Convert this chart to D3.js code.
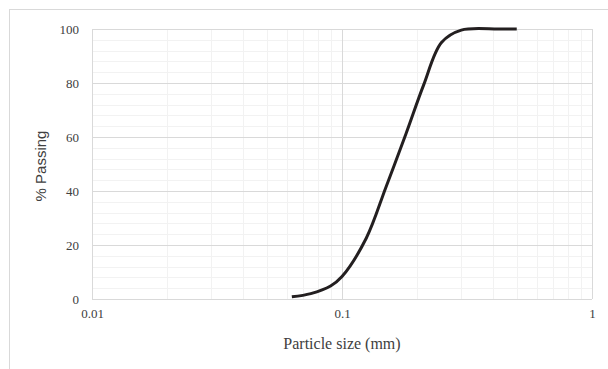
<!DOCTYPE html>
<html>
<head>
<meta charset="utf-8">
<script src="https://cdn.jsdelivr.net/npm/d3@7"></script>
<style>
  html, body { margin: 0; padding: 0; background: #fff; }
  svg { display: block; }
  .tick text { font-family: 'Liberation Serif', 'Times New Roman', serif; font-size: 13px; fill: #404040; }
</style>
</head>
<body>
<svg id="chart" width="608" height="369"></svg>
<script>
// Particle size distribution (sieve analysis)
const sizes   = [0.063, 0.075, 0.09, 0.1, 0.125, 0.15, 0.18, 0.212, 0.25, 0.3, 0.425, 0.5];
const passing = [0.8, 2.0, 4.8, 8.3, 22.5, 41.5, 61, 79.2, 95, 99.6, 100, 100];

const xTickValues = [0.01, 0.1, 1];
const xTickLabels = ["0.01", "0.1", "1"];
const yTickValues = [0, 20, 40, 60, 80, 100];

const svg = d3.select("#chart");
const W = 608, H = 369;
const m = { left: 92, right: W - 592, top: 29, bottom: H - 299 };

// chart frame
svg.append("rect")
  .attr("x", 9.5).attr("y", 9.5)
  .attr("width", 620).attr("height", 380)
  .attr("fill", "#fff").attr("stroke", "#d9d9d9").attr("stroke-width", 1);

const x = d3.scaleLog().domain([0.01, 1]).range([m.left, W - m.right]);
const y = d3.scaleLinear().domain([0, 100]).range([H - m.bottom, m.top]);

const g = svg.append("g");

// minor grid: vertical at 2..9 of each decade, horizontal every 4 %
const minorX = [];
[0.01, 0.1].forEach(d => { for (let k = 2; k <= 9; k++) minorX.push(d * k); });
const minorY = d3.range(0, 101, 4).filter(v => v % 20 !== 0);

g.selectAll(".mx").data(minorX).join("line")
  .attr("x1", d => Math.round(x(d)) + 0.5).attr("x2", d => Math.round(x(d)) + 0.5)
  .attr("y1", y(100)).attr("y2", y(0))
  .attr("stroke", "#f2f2f2").attr("stroke-width", 1);
g.selectAll(".my").data(minorY).join("line")
  .attr("x1", x(0.01)).attr("x2", x(1))
  .attr("y1", d => Math.round(y(d)) + 0.5).attr("y2", d => Math.round(y(d)) + 0.5)
  .attr("stroke", "#f2f2f2").attr("stroke-width", 1);

// major grid
g.selectAll(".Mx").data(xTickValues).join("line")
  .attr("x1", d => Math.round(x(d)) + 0.5).attr("x2", d => Math.round(x(d)) + 0.5)
  .attr("y1", y(100)).attr("y2", y(0))
  .attr("stroke", "#d9d9d9").attr("stroke-width", 1);
g.selectAll(".My").data(yTickValues).join("line")
  .attr("x1", x(0.01)).attr("x2", x(1))
  .attr("y1", d => Math.round(y(d)) + 0.5).attr("y2", d => Math.round(y(d)) + 0.5)
  .attr("stroke", "#d9d9d9").attr("stroke-width", 1);

// axes (labels only, lines come from the grid)
const xAxis = d3.axisBottom(x).tickValues(xTickValues)
  .tickFormat((d, i) => xTickLabels[i]).tickSize(0).tickPadding(10);
const yAxis = d3.axisLeft(y).tickValues(yTickValues).tickSize(0).tickPadding(13);

const ax = svg.append("g").attr("transform", `translate(0,${y(0)})`).call(xAxis);
const ay = svg.append("g").attr("transform", `translate(${x(0.01)},0)`).call(yAxis);
[ax, ay].forEach(a => {
  a.attr("font-family", "'Liberation Serif', 'Times New Roman', serif").attr("font-size", 13);
  a.select(".domain").remove();
});

// axis titles
svg.append("text")
  .attr("x", (x(0.01) + x(1)) / 2).attr("y", 349)
  .attr("text-anchor", "middle")
  .attr("fill", "#404040")
  .style("font-family", "'Liberation Serif', 'Times New Roman', serif")
  .style("font-size", "16px")
  .text("Particle size (mm)");

svg.append("text")
  .attr("transform", `translate(46,${(y(0) + y(100)) / 2 + 2}) rotate(-90)`)
  .attr("text-anchor", "middle")
  .attr("fill", "#404040")
  .style("font-family", "'Liberation Sans', Arial, sans-serif")
  .style("font-size", "15px")
  .text("% Passing");

// grading curve
const pts = sizes.map((s, i) => [s, passing[i]]);
const line = d3.line()
  .x(d => x(d[0])).y(d => y(d[1]))
  .curve(d3.curveCatmullRom.alpha(0.5));

svg.append("path")
  .datum(pts)
  .attr("d", line)
  .attr("fill", "none")
  .attr("stroke", "#231f20")
  .attr("stroke-width", 3)
  .attr("stroke-linejoin", "round");
</script>
</body>
</html>
